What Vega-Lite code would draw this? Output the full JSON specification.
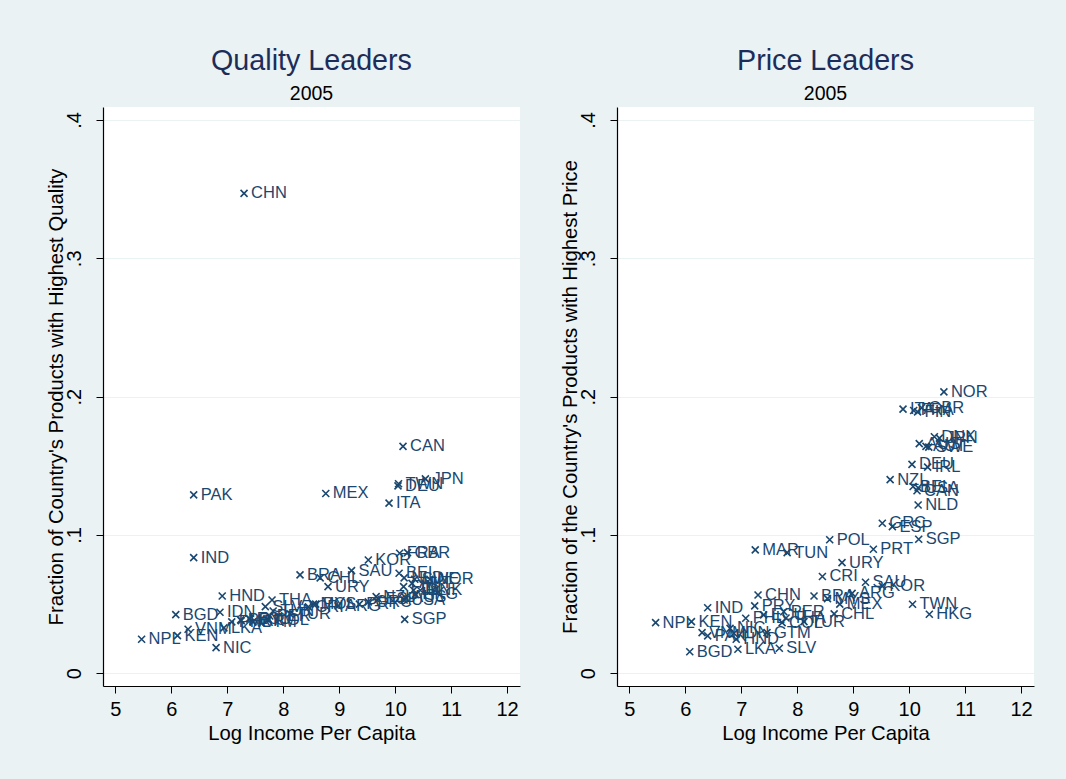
{
  "$schema": "https://vega.github.io/schema/vega-lite/v6.json",
  "background": "#eaf2f3",
  "padding": {"left": 45, "top": 46, "right": 32, "bottom": 36},
  "datasets": {
    "leaders": [
      {"country": "CHN", "loginc": 7.30, "quality": 0.347, "price": 0.0566},
      {"country": "CAN", "loginc": 10.14, "quality": 0.164, "price": 0.132},
      {"country": "PAK", "loginc": 6.40, "quality": 0.129, "price": 0.027},
      {"country": "MEX", "loginc": 8.76, "quality": 0.130, "price": 0.050},
      {"country": "ITA", "loginc": 9.89, "quality": 0.123, "price": 0.191},
      {"country": "DEU", "loginc": 10.05, "quality": 0.1355, "price": 0.151},
      {"country": "TWN", "loginc": 10.06, "quality": 0.137, "price": 0.0499},
      {"country": "JPN", "loginc": 10.54, "quality": 0.1405, "price": 0.170},
      {"country": "IND", "loginc": 6.40, "quality": 0.0836, "price": 0.0474},
      {"country": "HND", "loginc": 6.91, "quality": 0.0559, "price": 0.0246},
      {"country": "BGD", "loginc": 6.08, "quality": 0.0424, "price": 0.0156},
      {"country": "IDN", "loginc": 6.87, "quality": 0.0441, "price": 0.0289},
      {"country": "NPL", "loginc": 5.47, "quality": 0.0246, "price": 0.0366},
      {"country": "KEN", "loginc": 6.11, "quality": 0.0272, "price": 0.0373},
      {"country": "VNM", "loginc": 6.30, "quality": 0.0318, "price": 0.0294},
      {"country": "NIC", "loginc": 6.80, "quality": 0.0185, "price": 0.0325},
      {"country": "SLV", "loginc": 7.68, "quality": 0.0482, "price": 0.0181},
      {"country": "THA", "loginc": 7.80, "quality": 0.053, "price": 0.040},
      {"country": "BRA", "loginc": 8.30, "quality": 0.0711, "price": 0.0559},
      {"country": "CHL", "loginc": 8.66, "quality": 0.069, "price": 0.0429},
      {"country": "KOR", "loginc": 9.52, "quality": 0.0819, "price": 0.063},
      {"country": "SAU", "loginc": 9.22, "quality": 0.0742, "price": 0.0658},
      {"country": "URY", "loginc": 8.80, "quality": 0.0626, "price": 0.080},
      {"country": "FRA", "loginc": 10.08, "quality": 0.0868, "price": 0.190},
      {"country": "GBR", "loginc": 10.22, "quality": 0.0872, "price": 0.192},
      {"country": "BEL", "loginc": 10.07, "quality": 0.0723, "price": 0.135},
      {"country": "USA", "loginc": 10.16, "quality": 0.053, "price": 0.134},
      {"country": "NLD", "loginc": 10.16, "quality": 0.069, "price": 0.1217},
      {"country": "SWE", "loginc": 10.35, "quality": 0.068, "price": 0.1635},
      {"country": "NOR", "loginc": 10.62, "quality": 0.068, "price": 0.2034},
      {"country": "AUT", "loginc": 10.30, "quality": 0.065, "price": 0.164},
      {"country": "IRL", "loginc": 10.33, "quality": 0.060, "price": 0.149},
      {"country": "FIN", "loginc": 10.15, "quality": 0.0626, "price": 0.189},
      {"country": "DNK", "loginc": 10.45, "quality": 0.060, "price": 0.171},
      {"country": "AUS", "loginc": 10.18, "quality": 0.055, "price": 0.166},
      {"country": "NZL", "loginc": 9.66, "quality": 0.0554, "price": 0.140},
      {"country": "GRC", "loginc": 9.52, "quality": 0.0516, "price": 0.1085},
      {"country": "ESP", "loginc": 9.70, "quality": 0.0537, "price": 0.106},
      {"country": "PRT", "loginc": 9.36, "quality": 0.050, "price": 0.0897},
      {"country": "SGP", "loginc": 10.17, "quality": 0.039, "price": 0.0969},
      {"country": "POL", "loginc": 8.58, "quality": 0.050, "price": 0.0965},
      {"country": "MAR", "loginc": 7.25, "quality": 0.038, "price": 0.0892},
      {"country": "TUN", "loginc": 7.82, "quality": 0.045, "price": 0.0872},
      {"country": "CRI", "loginc": 8.45, "quality": 0.048, "price": 0.070},
      {"country": "ARG", "loginc": 8.98, "quality": 0.0487, "price": 0.0578},
      {"country": "MYS", "loginc": 8.54, "quality": 0.050, "price": 0.054},
      {"country": "PHL", "loginc": 7.08, "quality": 0.0372, "price": 0.0398},
      {"country": "PRY", "loginc": 7.24, "quality": 0.0386, "price": 0.0487},
      {"country": "ECU", "loginc": 7.40, "quality": 0.0393, "price": 0.0422},
      {"country": "PER", "loginc": 7.76, "quality": 0.0414, "price": 0.0445},
      {"country": "COL", "loginc": 7.73, "quality": 0.0386, "price": 0.0366},
      {"country": "TUR", "loginc": 8.12, "quality": 0.0429, "price": 0.0373},
      {"country": "GTM", "loginc": 7.46, "quality": 0.0372, "price": 0.0294},
      {"country": "LKA", "loginc": 6.94, "quality": 0.0328, "price": 0.0174},
      {"country": "HKG", "loginc": 10.36, "quality": 0.057, "price": 0.0427}
    ]
  },
  "data": {"name": "leaders"},
  "spacing": 39,
  "hconcat": [
    {
      "width": 417,
      "height": 579,
      "title": {"text": "Quality Leaders", "subtitle": "2005"},
      "encoding": {
        "x": {"field": "loginc", "type": "quantitative",
          "scale": {"domain": [4.78, 12.23], "nice": false, "zero": false},
          "axis": {"values": [5, 6, 7, 8, 9, 10, 11, 12], "grid": false, "title": "Log Income Per Capita", "labelPadding": 6, "titlePadding": 4}},
        "y": {"field": "quality", "type": "quantitative",
          "scale": {"domain": [-0.0092, 0.4094], "nice": false, "zero": false},
          "axis": {"values": [0, 0.1, 0.2, 0.3, 0.4], "grid": true, "labelAngle": -90, "labelPadding": 12, "titlePadding": -2,
            "labelExpr": "datum.value == 0 ? '0' : replace(format(datum.value, '.1f'), '0.', '.')",
            "title": "Fraction of Country's Products with Highest Quality"}}
      },
      "layer": [
        {"mark": {"type": "point", "shape": "M-1,-1L1,1M-1,1L1,-1", "filled": false, "size": 49, "strokeWidth": 1.6, "color": "#1a476f", "opacity": 1}},
        {"mark": {"type": "text", "align": "left", "baseline": "middle", "dx": 7, "fontSize": 16.5, "font": "Liberation Sans", "color": "#1a476f"},
         "encoding": {"text": {"field": "country"}}}
      ]
    },
    {
      "width": 417,
      "height": 579,
      "title": {"text": "Price Leaders", "subtitle": "2005"},
      "encoding": {
        "x": {"field": "loginc", "type": "quantitative",
          "scale": {"domain": [4.78, 12.23], "nice": false, "zero": false},
          "axis": {"values": [5, 6, 7, 8, 9, 10, 11, 12], "grid": false, "title": "Log Income Per Capita", "labelPadding": 6, "titlePadding": 4}},
        "y": {"field": "price", "type": "quantitative",
          "scale": {"domain": [-0.0092, 0.4094], "nice": false, "zero": false},
          "axis": {"values": [0, 0.1, 0.2, 0.3, 0.4], "grid": true, "labelAngle": -90, "labelPadding": 12, "titlePadding": -2,
            "labelExpr": "datum.value == 0 ? '0' : replace(format(datum.value, '.1f'), '0.', '.')",
            "title": "Fraction of the Country's Products with Highest Price"}}
      },
      "layer": [
        {"mark": {"type": "point", "shape": "M-1,-1L1,1M-1,1L1,-1", "filled": false, "size": 49, "strokeWidth": 1.6, "color": "#1a476f", "opacity": 1}},
        {"mark": {"type": "text", "align": "left", "baseline": "middle", "dx": 7, "fontSize": 16.5, "font": "Liberation Sans", "color": "#1a476f"},
         "encoding": {"text": {"field": "country"}}}
      ]
    }
  ],
  "config": {
    "view": {"fill": "white", "stroke": null},
    "axis": {"domainColor": "black", "tickColor": "black", "labelColor": "black", "titleColor": "black",
      "labelFont": "Liberation Sans", "titleFont": "Liberation Sans", "labelFontSize": 20, "titleFontSize": 20.3,
      "titleFontWeight": "normal", "tickSize": 7, "gridColor": "#eaf2f3", "gridOpacity": 1, "domainWidth": 1.2},
    "title": {"font": "Liberation Sans", "fontSize": 28.7, "fontWeight": "normal", "color": "#1c2d5a",
      "subtitleFont": "Liberation Sans", "subtitleFontSize": 19.5, "subtitleColor": "black",
      "anchor": "middle", "offset": 4, "subtitlePadding": 9}
  }
}
